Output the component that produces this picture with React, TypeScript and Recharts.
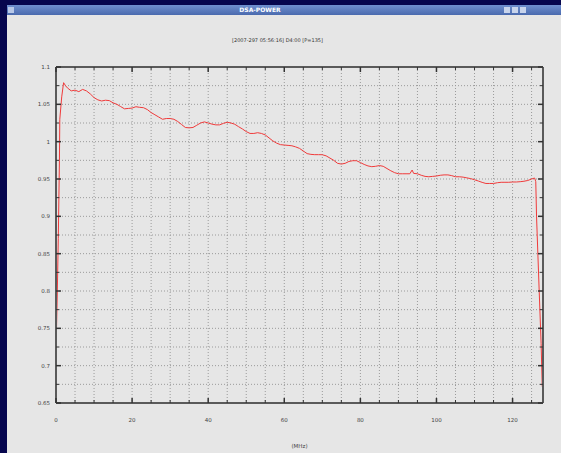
import { LineChart, Line, XAxis, YAxis, CartesianGrid } from "recharts";

// channel frequency (MHz) and normalised power
const FREQ = [
  0, 0.1, 0.35, 0.6, 0.9, 1, 1.5, 2, 2.5, 3, 4, 5, 6, 7, 8, 9, 10, 11, 12, 13, 14, 15, 16, 17, 18, 19,
  20, 21, 22, 23, 24, 25, 26, 27, 28, 29, 30, 31, 32, 33, 34, 35, 36, 37, 38, 39, 40, 41, 42, 43, 44,
  45, 46, 47, 48, 49, 50, 51, 52, 53, 54, 55, 56, 57, 58, 59, 60, 61, 62, 63, 64, 65, 66, 67, 68, 69,
  70, 71, 72, 73, 74, 75, 76, 77, 78, 79, 80, 81, 82, 83, 84, 85, 86, 87, 88, 89, 90, 91, 92, 93, 93.6,
  94, 95, 96, 97, 98, 99, 100, 101, 102, 103, 104, 105, 106, 107, 108, 109, 110, 111, 112, 113, 114,
  115, 116, 117, 118, 119, 120, 121, 122, 123, 124, 125, 125.8, 126.1, 126.3, 127, 127.5, 127.8,
];
const POWER = [
  0.725, 0.741, 0.8, 0.87, 0.975, 1.03, 1.06, 1.079, 1.075, 1.072, 1.068, 1.069, 1.067, 1.07, 1.068,
  1.064, 1.059, 1.056, 1.0545, 1.0555, 1.055, 1.052, 1.05, 1.047, 1.044, 1.0445, 1.045, 1.0468, 1.046,
  1.0455, 1.043, 1.039, 1.036, 1.033, 1.03, 1.031, 1.031, 1.03, 1.027, 1.023, 1.019, 1.0185, 1.019,
  1.022, 1.025, 1.0265, 1.025, 1.0235, 1.0225, 1.0225, 1.0245, 1.026, 1.025, 1.0233, 1.02, 1.017,
  1.0135, 1.011, 1.011, 1.012, 1.011, 1.009, 1.005, 1.001, 0.998, 0.996, 0.9955, 0.995, 0.9945, 0.993,
  0.991, 0.9875, 0.984, 0.983, 0.9826, 0.9826, 0.9825, 0.981, 0.978, 0.975, 0.971, 0.97, 0.971, 0.9735,
  0.9745, 0.9745, 0.972, 0.9695, 0.9675, 0.9665, 0.967, 0.968, 0.967, 0.964, 0.961, 0.9585, 0.957,
  0.957, 0.957, 0.957, 0.962, 0.9575, 0.957, 0.955, 0.9535, 0.953, 0.9535, 0.954, 0.955, 0.9555,
  0.9555, 0.9545, 0.953, 0.953, 0.9525, 0.9515, 0.9505, 0.949, 0.9473, 0.9455, 0.944, 0.944, 0.944,
  0.945, 0.9456, 0.9456, 0.9456, 0.946, 0.946, 0.9464, 0.947, 0.948, 0.95, 0.9513, 0.9464, 0.9, 0.8,
  0.73, 0.672,
];

const X_TICKS = [
  0, 5, 10, 15, 20, 25, 30, 35, 40, 45, 50, 55, 60, 65, 70, 75, 80, 85, 90, 95, 100, 105, 110, 115,
  120, 125,
];
const X_LABELS = [0, 20, 40, 60, 80, 100, 120];
const Y_TICKS = [
  0.65, 0.675, 0.7, 0.725, 0.75, 0.775, 0.8, 0.825, 0.85, 0.875, 0.9, 0.925, 0.95, 0.975, 1, 1.025,
  1.05, 1.075, 1.1,
];
const Y_LABELS = [0.65, 0.7, 0.75, 0.8, 0.85, 0.9, 0.95, 1, 1.05, 1.1];

const TITLE = "[2007-297 05:56:16] D4:00 [P=135]";
const X_TITLE = "(MHz)";

const data = FREQ.map((f, i) => ({ f, p: POWER[i] }));

const FONT = "'DejaVu Sans', sans-serif";
const TICK = "#333";
const BOX = { stroke: "#5a5a5a", strokeWidth: 2 };

function isYLabel(v: number) {
  return Y_LABELS.some((l) => Math.abs(l - v) < 1e-6);
}

// gnuplot style: ticks point inward, labels only on the majors
function XTick(props: any) {
  const { x, y, payload, top } = props;
  const major = X_LABELS.includes(payload.value);
  const len = major ? 5 : 3;
  return (
    <g>
      <line x1={x} x2={x} y1={y} y2={top ? y + len : y - len} stroke={TICK} strokeWidth={major ? 1.5 : 1} />
      {!top && major && (
        <text x={x} y={y + 19} textAnchor="middle" fontSize={5.5} fontFamily={FONT} fill="#444">
          {payload.value}
        </text>
      )}
    </g>
  );
}

function YTick(props: any) {
  const { x, y, payload, right } = props;
  const major = isYLabel(payload.value);
  const len = major ? 5 : 3;
  return (
    <g>
      <line x1={x} x2={right ? x - len : x + len} y1={y} y2={y} stroke={TICK} strokeWidth={major ? 1.5 : 1} />
      {!right && major && (
        <text x={x - 6} y={y + 2} textAnchor="end" fontSize={5.5} fontFamily={FONT} fill="#444">
          {String(+payload.value.toFixed(3))}
        </text>
      )}
    </g>
  );
}

export default function App() {
  return (
    <div style={{ position: "fixed", left: 0, top: 0, width: 561, height: 453, background: "#06064e", overflow: "hidden" }}>
      {/* window */}
      <div style={{ position: "absolute", left: 7, top: 5, width: 554, height: 448, background: "#e6e6e6" }}>
        <div
          style={{
            position: "absolute",
            left: 0,
            top: 0,
            width: 554,
            height: 10,
            background: "linear-gradient(#6f8fcf, #4a6aae)",
            color: "#fff",
            fontFamily: FONT,
            fontSize: 6,
            fontWeight: "bold",
            lineHeight: "10px",
          }}
        >
          <div style={{ position: "absolute", left: 1, top: 2, width: 6, height: 6, background: "#b8c8e8" }} />
          <div style={{ position: "absolute", left: 0, width: 506, textAlign: "center" }}>DSA-POWER</div>
          <div style={{ position: "absolute", left: 497, top: 2, width: 6, height: 6, background: "#c8d4ec" }} />
          <div style={{ position: "absolute", left: 505, top: 2, width: 6, height: 6, background: "#c8d4ec" }} />
          <div style={{ position: "absolute", left: 513, top: 2, width: 6, height: 6, background: "#c8d4ec" }} />
        </div>
      </div>

      <div
        style={{
          position: "absolute",
          left: 0,
          top: 37,
          width: 555,
          textAlign: "center",
          fontFamily: FONT,
          fontSize: 5,
          color: "#333",
        }}
      >
        {TITLE}
      </div>
      <div
        style={{
          position: "absolute",
          left: 56,
          top: 443,
          width: 487,
          textAlign: "center",
          fontFamily: FONT,
          fontSize: 5.5,
          color: "#444",
        }}
      >
        {X_TITLE}
      </div>

      <LineChart
        width={561}
        height={453}
        data={data}
        margin={{ top: 66, right: 17, bottom: 30, left: 26 }}
        style={{ position: "absolute", left: 0, top: 0 }}
      >
        <CartesianGrid stroke="#9a9a9a" strokeDasharray="1 2" />
        <XAxis
          dataKey="f"
          type="number"
          domain={[0, 128]}
          ticks={X_TICKS}
          interval={0}
          height={20}
          tickSize={0}
          tickMargin={0}
          tickLine={false}
          axisLine={BOX}
          tick={(p: any) => <XTick {...p} />}
          allowDataOverflow
        />
        <XAxis
          xAxisId="top"
          orientation="top"
          dataKey="f"
          type="number"
          domain={[0, 128]}
          ticks={X_TICKS}
          interval={0}
          height={1}
          tickSize={0}
          tickMargin={0}
          tickLine={false}
          axisLine={BOX}
          tick={(p: any) => <XTick {...p} top />}
          allowDataOverflow
        />
        <YAxis
          type="number"
          domain={[0.65, 1.1]}
          ticks={Y_TICKS}
          interval={0}
          width={30}
          tickSize={0}
          tickMargin={0}
          tickLine={false}
          axisLine={BOX}
          tick={(p: any) => <YTick {...p} />}
          allowDataOverflow
        />
        <YAxis
          yAxisId="right"
          orientation="right"
          type="number"
          domain={[0.65, 1.1]}
          ticks={Y_TICKS}
          interval={0}
          width={1}
          tickSize={0}
          tickMargin={0}
          tickLine={false}
          axisLine={BOX}
          tick={(p: any) => <YTick {...p} right />}
          allowDataOverflow
        />
        <Line
          type="linear"
          dataKey="p"
          stroke="#f03a3a"
          strokeWidth={1}
          dot={false}
          isAnimationActive={false}
        />
      </LineChart>
    </div>
  );
}
